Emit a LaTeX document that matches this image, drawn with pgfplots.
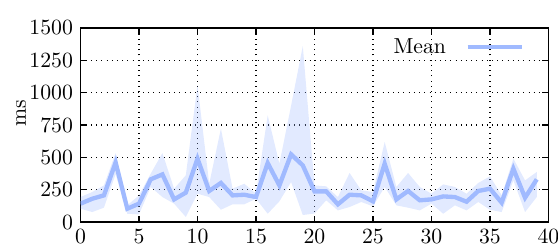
\documentclass[border=0pt]{standalone}
\usepackage{pgfplots}
\usepackage{pgfplotstable}
\pgfplotsset{compat=1.18}
\usepgfplotslibrary{fillbetween}
\definecolor{meanc}{RGB}{160,186,255}
\pgfplotstableread{
i mean lo hi
0 142 103 193
1 180 77 232
2 206 111 283
3 460 370 533
4 103 64 129
5 142 59 206
6 330 271 374
7 368 193 533
8 175 142 258
9 227 39 361
10 490 219 1057
11 240 193 296
12 302 95 722
13 206 137 258
14 211 137 296
15 193 180 219
16 456 64 825
17 283 160 451
18 523 309 900
19 438 54 1360
20 237 66 283
21 237 168 276
22 137 90 193
23 211 116 379
24 206 155 245
25 160 121 232
26 451 271 619
27 175 129 271
28 240 111 379
29 168 90 271
30 175 142 219
31 198 64 291
32 193 129 271
33 157 90 219
34 240 155 302
35 258 95 353
36 150 77 206
37 412 322 490
38 188 77 322
39 330 193 387
}\data
\begin{document}
\begin{tikzpicture}
\begin{axis}[
  scale only axis,
  width=215.6pt, height=89.4pt,
  xmin=0, xmax=40, ymin=0, ymax=1500,
  xtick={0,5,...,40},
  ytick={0,250,...,1500},
  /pgf/number format/1000 sep={},
  tick align=inside,
  major tick length=3pt,
  tick style={black, line width=0.6pt},
  axis line style={line width=0.8pt},
  grid=major,
  grid style={dotted, black, line width=0.5pt},
  ylabel={ms},
  ylabel style={at={(axis description cs:0,0.56)}, anchor=center, yshift=27.4pt},
  legend style={draw=none, fill=none, font=\normalsize, at={(1,1)}, anchor=north east,
    xshift=-8pt, yshift=-0.5pt},
  legend plot pos=right,
  legend cell align=right,
]
\addplot[name path=up, draw=none, forget plot] table[x=i, y=hi] {\data};
\addplot[name path=dn, draw=none, forget plot] table[x=i, y=lo] {\data};
\addplot[meanc, fill opacity=0.3, forget plot] fill between[of=up and dn];
\addplot[meanc, line width=2pt, line join=miter,
  legend image code/.code={\path (0pt,0pt); \draw[meanc, line width=2pt] (7pt,0pt) -- (32pt,0pt);}]
  table[x=i, y=mean] {\data};
\addlegendentry{Mean}
\end{axis}
\pgfresetboundingbox
\path[use as bounding box] ([xshift=-37.1pt,yshift=-11.5pt]current axis.south west) rectangle ([xshift=4.4pt,yshift=12.9pt]current axis.north east);
\end{tikzpicture}
\end{document}
